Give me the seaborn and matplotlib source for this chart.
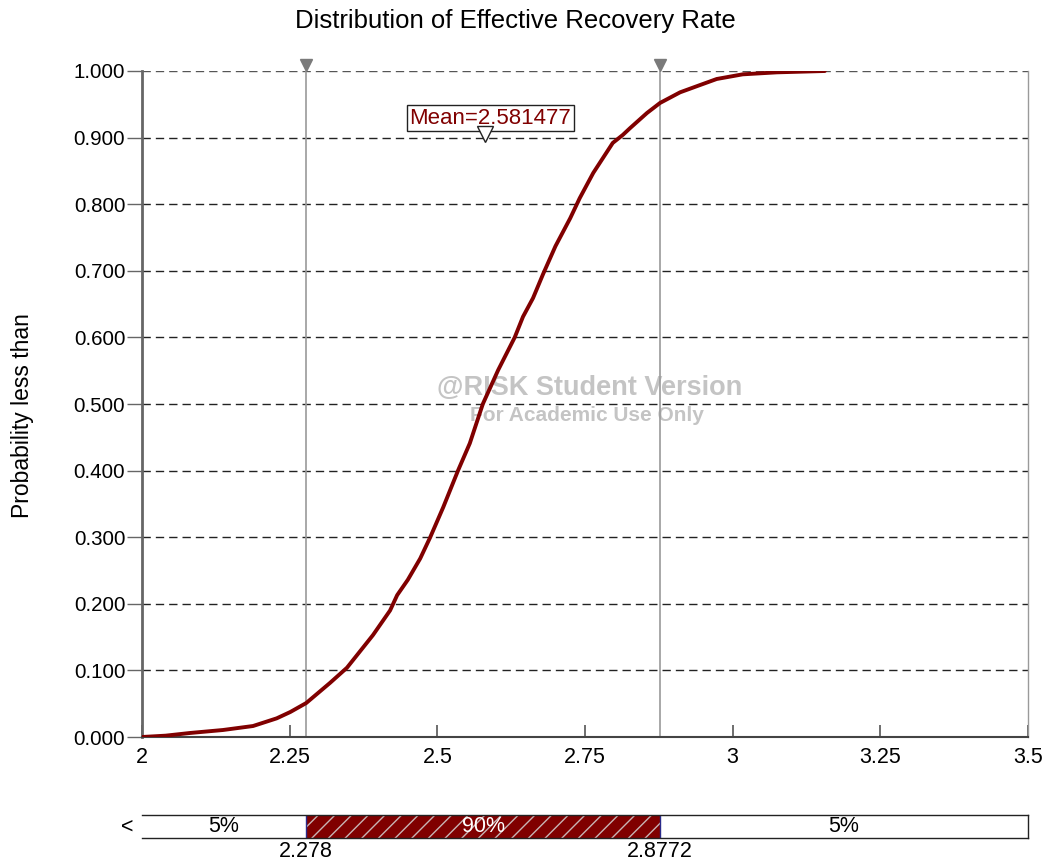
import numpy as np
import matplotlib
matplotlib.use("Agg")
import matplotlib.pyplot as plt
import seaborn as sns

# Simulated cumulative distribution of the effective recovery rate
rate = [2.000, 2.040, 2.081, 2.137, 2.188, 2.228, 2.251, 2.278, 2.318, 2.347,
        2.391, 2.420, 2.432, 2.450, 2.471, 2.488, 2.510, 2.535, 2.555, 2.577,
        2.603, 2.631, 2.645, 2.662, 2.679, 2.700, 2.725, 2.741, 2.764, 2.797,
        2.814, 2.826, 2.855, 2.877, 2.911, 2.945, 2.973, 3.017, 3.075, 3.156]
prob = [0.000, 0.002, 0.006, 0.0105, 0.0165, 0.028, 0.0375, 0.051, 0.081, 0.104,
        0.153, 0.190, 0.213, 0.236, 0.268, 0.300, 0.345, 0.400, 0.441, 0.500,
        0.551, 0.600, 0.631, 0.659, 0.695, 0.737, 0.779, 0.809, 0.847, 0.892,
        0.904, 0.914, 0.937, 0.952, 0.968, 0.979, 0.988, 0.995, 0.998, 1.000]

mean_value = 2.581477
lower_bound = 2.278
upper_bound = 2.8772
band_labels = ["5%", "90%", "5%"]

x_ticks = [2.0, 2.25, 2.5, 2.75, 3.0, 3.25, 3.5]
x_tick_labels = ["2", "2.25", "2.5", "2.75", "3", "3.25", "3.5"]
y_ticks = [0.0, 0.1, 0.2, 0.3, 0.4, 0.5, 0.6, 0.7, 0.8, 0.9, 1.0]

sns.set_theme(style="white")
plt.rcParams["font.family"] = ["Liberation Sans", "DejaVu Sans"]
plt.rcParams["text.color"] = "black"
plt.rcParams["lines.scale_dashes"] = False
plt.rcParams["hatch.linewidth"] = 1.0

W, H = 1051, 863
fig = plt.figure(figsize=(W / 100, H / 100), dpi=100)
fig.patch.set_facecolor("white")

ax = fig.add_axes([142 / W, 1 - 737 / H, 886 / W, 666 / H])
ax.set_facecolor("white")

dark_red = "#800000"

# Horizontal dashed grid
for yv in y_ticks[1:]:
    ax.axhline(yv, color="#555555" if yv == 1.0 else "#222222", lw=1.0,
               ls=(0, (6, 3.6)), zorder=1)

# Watermark
ax.text(2.758, 0.524, "@RISK Student Version", ha="center", va="center",
        fontsize=19.5, fontweight="bold", color="#c4c4c4", zorder=2)
ax.text(2.754, 0.482, "For Academic Use Only", ha="center", va="center",
        fontsize=15, fontweight="bold", color="#c4c4c4", zorder=2)

# Percentile markers
for xv in (lower_bound, upper_bound):
    ax.axvline(xv, color="#9a9a9a", lw=1.2, zorder=2)
ax.plot([lower_bound, upper_bound], [1.009, 1.009], ls="none", marker="v",
        markersize=9, color="#7a7a7a", clip_on=False, zorder=5)

# CDF curve
sns.lineplot(x=rate, y=prob, ax=ax, color=dark_red, lw=2.8, zorder=4,
             estimator=None, sort=False)

# Mean label
ax.text(mean_value + 0.008, 0.929, f"Mean={mean_value:.6f}", ha="center",
        va="center", fontsize=16, color=dark_red, zorder=6,
        bbox=dict(boxstyle="square,pad=0.12", fc="white", ec="#222222", lw=1.0))
ax.plot([mean_value], [0.905], ls="none", marker="v", markersize=11,
        markerfacecolor="white", markeredgecolor="#222222", markeredgewidth=1.0,
        zorder=7)

ax.set_xlim(2.0, 3.5)
ax.set_ylim(0.0, 1.0)
ax.set_xticks(x_ticks)
ax.set_xticklabels(x_tick_labels, fontsize=15.5)
ax.set_yticks(y_ticks)
ax.set_yticklabels([f"{v:.3f}" for v in y_ticks], fontsize=14.8)
ax.tick_params(axis="x", direction="in", length=9, width=1.2, color="#555555",
               pad=7, labelcolor="black", bottom=True)
ax.tick_params(axis="y", direction="out", length=11, width=1.0, color="#666666",
               pad=1, labelcolor="black", left=True)
ax.set_xlabel("")
ax.set_ylabel("Probability less than", fontsize=16.5, color="black")
ax.yaxis.set_label_coords(-108 / 886, 0.482)

ax.spines["top"].set_visible(False)
ax.spines["left"].set_color("#666666")
ax.spines["left"].set_linewidth(2.0)
ax.spines["bottom"].set_color("#444444")
ax.spines["bottom"].set_linewidth(1.5)
ax.spines["right"].set_color("#9a9a9a")
ax.spines["right"].set_linewidth(1.0)

fig.text(0.49, 1 - 21 / H, "Distribution of Effective Recovery Rate",
         ha="center", va="center", fontsize=18.5)

# Percentile band below the chart
bx = fig.add_axes([142 / W, 1 - 838 / H, 886 / W, 23 / H])
edges = [2.0, lower_bound, upper_bound, 3.5]
lefts = edges[:-1]
widths = [b - a for a, b in zip(edges[:-1], edges[1:])]
colors = ["white", dark_red, "white"]
bx.barh([0.5] * 3, widths, left=lefts, height=1.0, color=colors, lw=0)
bx.barh([0.5], [upper_bound - lower_bound], left=[lower_bound], height=1.0,
        color="none", edgecolor="#c8b4b4", hatch="//", lw=0)
for xv in (lower_bound, upper_bound):
    bx.axvline(xv, color="#2a2a8a", lw=1.0)
for (a, b), lab, c in zip(zip(edges[:-1], edges[1:]), band_labels,
                          ["black", "white", "black"]):
    bx.text((a + b) / 2, 0.5, lab, ha="center", va="center", fontsize=15.5, color=c)
bx.text(1.985, 0.45, "<", ha="right", va="center", fontsize=15.5)
for xv, lab in ((lower_bound, "2.278"), (upper_bound, "2.8772")):
    bx.text(xv, -0.15, lab, ha="center", va="top", fontsize=15.5)
bx.set_xlim(2.0, 3.5)
bx.set_ylim(0, 1)
bx.set_xticks([])
bx.set_yticks([])
bx.spines["left"].set_visible(False)
for s in ("top", "bottom", "right"):
    bx.spines[s].set_color("#222222")
    bx.spines[s].set_linewidth(1.0)

fig.savefig("out.png", dpi=100, facecolor="white")
